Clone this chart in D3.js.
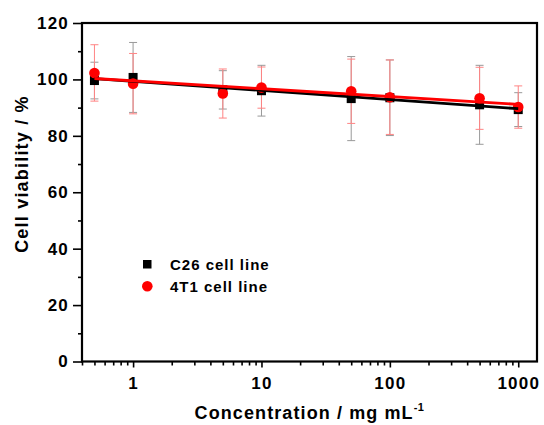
<!DOCTYPE html>
<html><head><meta charset="utf-8">
<script src="https://cdn.jsdelivr.net/npm/d3@7"></script>
<style>
body{margin:0;background:#fff;}
svg{display:block;}
text{font-family:"Liberation Sans",Arial,sans-serif;font-weight:bold;fill:#000;}
</style></head><body>
<svg id="chart" width="544" height="425"></svg>
<script>
const concentrations = [0.5, 1, 5, 10, 50, 100, 500, 1000];
const c26Mean = [99.6, 100.7, 96.3, 96.0, 93.2, 93.5, 91.0, 89.3];
const c26Err  = [6.5, 12.4, 6.8, 9.0, 14.9, 13.4, 14.0, 6.0];
const t41Mean = [102.3, 98.5, 95.0, 97.1, 95.8, 93.7, 93.3, 90.2];
const t41Err  = [10.0, 10.7, 8.7, 7.3, 11.4, 13.2, 11.0, 7.5];
const seriesNames = ["C26 cell line", "4T1 cell line"];
const xTicks = [1, 10, 100, 1000];
const yTicks = [0, 20, 40, 60, 80, 100, 120];
const yMinorTicks = [10, 30, 50, 70, 90, 110];
const xDomain = [0.4, 1400];
const yDomain = [0, 120];

const svg = d3.select("#chart");
const L = 82, R = 537, T = 23, B = 361.5;
const x = d3.scaleLog().domain(xDomain).range([L, R]);
const y = d3.scaleLinear().domain(yDomain).range([B, T]);

// minor x ticks
const xMinor = [];
for (let e = -1; e <= 3; e++) for (let m = 2; m <= 9; m++) {
  const v = m * Math.pow(10, e);
  if (v >= xDomain[0] && v <= xDomain[1] && !xTicks.includes(v)) xMinor.push(v);
}

function styleAxis(g){ g.select(".domain").remove(); g.selectAll("line").attr("stroke","#000").attr("stroke-width",1.6); }

svg.append("g").attr("transform",`translate(0,${B})`)
  .call(d3.axisBottom(x).tickValues(xMinor).tickSize(4).tickFormat(""))
  .call(styleAxis);
svg.append("g").attr("transform",`translate(0,${B})`)
  .call(d3.axisBottom(x).tickValues(xTicks).tickSize(6).tickPadding(9).tickFormat(d3.format("d")))
  .call(styleAxis)
  .selectAll("text").attr("font-size",17).attr("font-family",'"Liberation Sans",Arial,sans-serif').attr("font-weight","bold").attr("letter-spacing","1.2px");

svg.append("g").attr("transform",`translate(${L},0)`)
  .call(d3.axisLeft(y).tickValues(yMinorTicks).tickSize(4).tickFormat(""))
  .call(styleAxis);
svg.append("g").attr("transform",`translate(${L},0)`)
  .call(d3.axisLeft(y).tickValues(yTicks).tickSize(9).tickPadding(4).tickFormat(d3.format("d")))
  .call(styleAxis)
  .selectAll("text").attr("font-size",17).attr("font-family",'"Liberation Sans",Arial,sans-serif').attr("font-weight","bold").attr("letter-spacing","1.2px");

// frame
svg.append("rect").attr("x",L).attr("y",T).attr("width",R-L).attr("height",B-T)
  .attr("fill","none").attr("stroke","#000").attr("stroke-width",2.2);

// data
const series = [
  {name: seriesNames[0], mean: c26Mean, err: c26Err, color:"#000", errColor:"#999999", shape:"square"},
  {name: seriesNames[1], mean: t41Mean, err: t41Err, color:"#ff0000", errColor:"#ff8484", shape:"circle"}
];

function fit(xs, ys){
  const lx = xs.map(v=>Math.log10(v));
  const mx = d3.mean(lx), my = d3.mean(ys);
  let sxy=0,sxx=0;
  lx.forEach((v,i)=>{sxy+=(v-mx)*(ys[i]-my); sxx+=(v-mx)*(v-mx);});
  const b = sxy/sxx, a = my - b*mx;
  return v => a + b*Math.log10(v);
}

const plot = svg.append("g");
// error bars
series.forEach(s=>{
  const g = plot.append("g").attr("stroke",s.errColor).attr("stroke-width",1);
  concentrations.forEach((c,i)=>{
    const cx = x(c), y1 = y(s.mean[i]+s.err[i]), y0 = y(s.mean[i]-s.err[i]);
    g.append("line").attr("x1",cx).attr("x2",cx).attr("y1",y1).attr("y2",y0);
    g.append("line").attr("x1",cx-4).attr("x2",cx+4).attr("y1",y1).attr("y2",y1);
    g.append("line").attr("x1",cx-4).attr("x2",cx+4).attr("y1",y0).attr("y2",y0);
  });
});
// markers
series.forEach(s=>{
  concentrations.forEach((c,i)=>{
    if (s.shape==="square")
      plot.append("rect").attr("x",x(c)-4.5).attr("y",y(s.mean[i])-4.5).attr("width",9).attr("height",9).attr("fill",s.color);
    else
      plot.append("circle").attr("cx",x(c)).attr("cy",y(s.mean[i])).attr("r",5.3).attr("fill",s.color);
  });
});
// fit lines
series.forEach(s=>{
  const f = fit(concentrations, s.mean);
  const ends = [concentrations[0], concentrations[concentrations.length-1]];
  plot.append("path").attr("d", d3.line().x(d=>x(d)).y(d=>y(f(d)))(ends))
    .attr("stroke",s.color).attr("stroke-width",2.8).attr("fill","none");
});

// legend
const lg = svg.append("g");
lg.append("rect").attr("x",143).attr("y",260).attr("width",8.5).attr("height",8.5).attr("fill","#000");
lg.append("text").attr("x",170).attr("y",269.5).attr("font-size",15).attr("letter-spacing","1px").text(seriesNames[0]);
lg.append("circle").attr("cx",147.3).attr("cy",286.2).attr("r",5.3).attr("fill","#ff0000");
lg.append("text").attr("x",170).attr("y",291.5).attr("font-size",15).attr("letter-spacing","1px").text(seriesNames[1]);

// axis titles
const xt = svg.append("text").attr("x",(L+R)/2).attr("y",418.5).attr("text-anchor","middle")
  .attr("font-size",18).attr("letter-spacing","1.1px");
xt.append("tspan").text("Concentration / mg mL");
xt.append("tspan").attr("dy",-8).attr("font-size",11).attr("letter-spacing","0.5px").text("-1");

svg.append("text").attr("transform","translate(27.5,174) rotate(-90)").attr("text-anchor","middle")
  .attr("font-size",18).attr("letter-spacing","1.2px").text("Cell viability / %");
</script>
</body></html>
